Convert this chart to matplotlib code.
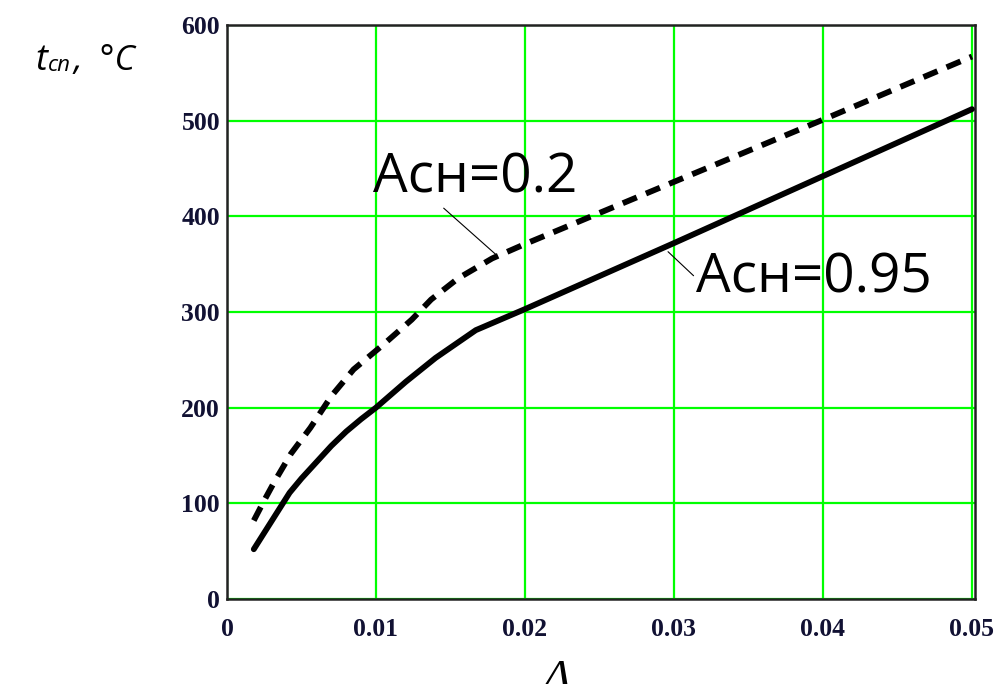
import matplotlib
matplotlib.use("Agg")
import matplotlib.pyplot as plt

# data
delta_095 = [0.0018, 0.0042, 0.005, 0.006, 0.007, 0.008, 0.009, 0.010, 0.012, 0.014, 0.0167, 0.02, 0.03, 0.04, 0.05]
t_095 = [52, 111, 126, 143, 160, 175, 188, 200, 227, 252, 281, 303, 372, 442, 512]

delta_02 = [0.0018, 0.0025, 0.0032, 0.0043, 0.0056, 0.007, 0.0085, 0.0105, 0.0124, 0.0137, 0.0155, 0.0178, 0.02, 0.03, 0.04, 0.05]
t_02 = [82, 103, 123, 152, 179, 212, 240, 266, 292, 313, 335, 356, 371, 436, 501, 567]

x_ticks = [0, 0.01, 0.02, 0.03, 0.04, 0.05]
x_tick_labels = ["0", "0.01", "0.02", "0.03", "0.04", "0.05"]
y_ticks = [0, 100, 200, 300, 400, 500, 600]

fig = plt.figure(figsize=(10.07, 6.84), dpi=100)
ax = fig.add_axes([0.2254, 0.1243, 0.7428, 0.8392])

ax.plot(delta_095, t_095, color="black", lw=4.2, solid_capstyle="round", zorder=3)
ax.plot(delta_02, t_02, color="black", lw=4.2, linestyle=(0, (2.6, 1.7)), zorder=3)

ax.set_xlim(0, 0.0502)
ax.set_ylim(0, 600)
ax.set_xticks(x_ticks)
ax.set_xticklabels(x_tick_labels)
ax.set_yticks(y_ticks)
ax.grid(True, color="#00ff00", lw=1.6)
ax.set_axisbelow(True)
ax.tick_params(length=0, labelsize=18.5)
ax.tick_params(axis="x", pad=14)
ax.tick_params(axis="y", pad=5)
for lab in ax.get_xticklabels() + ax.get_yticklabels():
    lab.set_family("Liberation Serif")
    lab.set_fontweight("bold")
    lab.set_color("#111133")
for sp in ax.spines.values():
    sp.set_color("#222222")
    sp.set_linewidth(1.8)

# curve labels with thin leader lines
ann_fam = ["Open Sans", "DejaVu Sans"]
ax.annotate("Асн=0.2", xy=(0.01805, 360), xytext=(0.0098, 425),
            fontsize=39.5, family=ann_fam, color="black",
            va="baseline", ha="left",
            arrowprops=dict(arrowstyle="-", color="black", lw=0.8,
                            shrinkA=0, shrinkB=0,
                            relpos=(0.27, 0.2)))
ax.annotate("Асн=0.95", xy=(0.0296, 363), xytext=(0.0315, 320),
            fontsize=39.5, family=ann_fam, color="black",
            va="baseline", ha="left",
            arrowprops=dict(arrowstyle="-", color="black", lw=0.8,
                            shrinkA=0, shrinkB=0,
                            relpos=(0.0, 0.5)))

# axis titles
lab_fam = ["Open Sans", "DejaVu Sans"]
fig.text(35 / 1007, 1 - 70 / 684, "t", fontsize=26, style="italic", family=lab_fam, va="baseline")
fig.text(48 / 1007, 1 - 71 / 684, "сп", fontsize=16, style="italic", family=lab_fam, va="baseline")
fig.text(73 / 1007, 1 - 70 / 684, ",  °C", fontsize=25, style="italic", family=lab_fam, va="baseline")
fig.text(557 / 1007, 1 - 659 / 684, "Δ", fontsize=32, style="italic", family=["Liberation Serif", "DejaVu Serif"],
         ha="center", va="top")

fig.savefig("out.png", dpi=100)
